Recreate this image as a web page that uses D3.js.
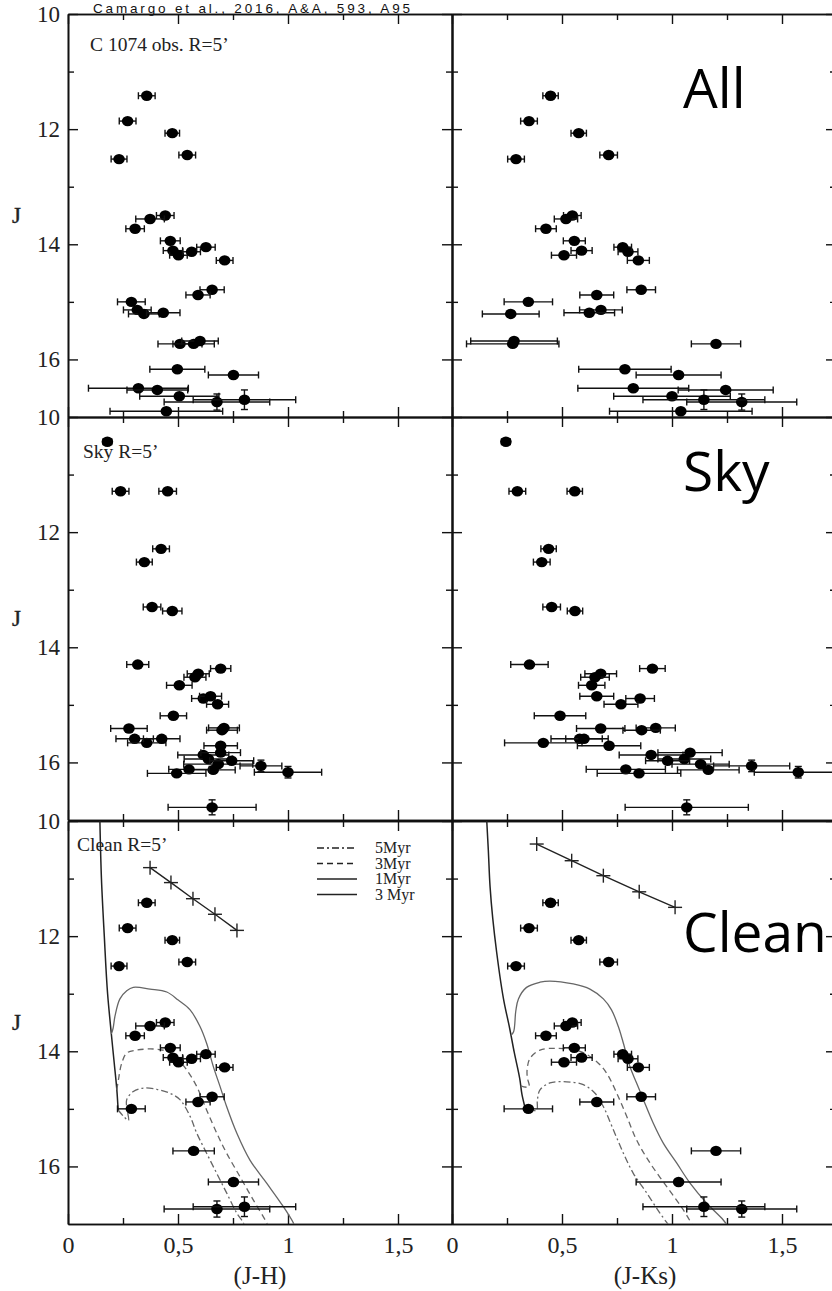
<!DOCTYPE html>
<html>
<head>
<meta charset="utf-8">
<script src="https://cdn.jsdelivr.net/npm/d3@7"></script>
<style>
  body { margin: 0; background: #fff; }
  .tick text { font-family: "Liberation Serif", serif; font-size: 23px; fill: #222; }
</style>
</head>
<body>
<div id="chart"></div>
<script>
// ---------- data ----------
// full field (C 1074, R=5')
const allJ     = [11.42, 11.86, 12.07, 12.52, 12.45, 13.50, 13.56, 13.73, 13.94, 14.11, 14.19, 14.13, 14.05, 14.28, 14.79, 14.88,
                  15.00, 15.14, 15.21, 15.19, 15.73, 15.73, 15.68, 16.17, 16.27, 16.50, 16.53, 16.64, 16.74, 16.70, 16.90];
const allJH    = [0.358, 0.271, 0.474, 0.232, 0.542, 0.442, 0.373, 0.305, 0.465, 0.477, 0.502, 0.562, 0.627, 0.712, 0.655, 0.591,
                  0.288, 0.315, 0.345, 0.433, 0.509, 0.571, 0.600, 0.497, 0.752, 0.320, 0.406, 0.506, 0.677, 0.802, 0.447];
const allJHerr = [0.038, 0.038, 0.033, 0.036, 0.038, 0.040, 0.065, 0.042, 0.045, 0.044, 0.040, 0.040, 0.042, 0.038, 0.055, 0.055,
                  0.063, 0.063, 0.070, 0.076, 0.100, 0.094, 0.083, 0.125, 0.114, 0.227, 0.138, 0.180, 0.240, 0.233, 0.256];
const allJK    = [0.448, 0.350, 0.576, 0.291, 0.712, 0.547, 0.518, 0.427, 0.556, 0.589, 0.509, 0.800, 0.776, 0.847, 0.860, 0.658,
                  0.347, 0.677, 0.267, 0.624, 0.276, 1.200, 0.282, 0.786, 1.030, 0.824, 1.244, 1.000, 1.317, 1.145, 1.040];
const allJKerr = [0.035, 0.038, 0.035, 0.038, 0.040, 0.040, 0.053, 0.047, 0.050, 0.048, 0.057, 0.045, 0.040, 0.050, 0.065, 0.077,
                  0.110, 0.097, 0.129, 0.115, 0.210, 0.112, 0.197, 0.210, 0.193, 0.252, 0.216, 0.265, 0.250, 0.277, 0.324];
const allJerr  = [0, 0, 0, 0, 0, 0, 0, 0, 0, 0, 0, 0, 0, 0, 0, 0,
                  0, 0, 0, 0, 0, 0, 0, 0, 0, 0, 0, 0, 0.14, 0.17, 0];
// stars kept after decontamination
const cleanIdx = [0, 1, 2, 3, 4, 5, 6, 7, 8, 9, 10, 11, 12, 13, 14, 15, 16, 21, 24, 28, 29];

// comparison field (Sky, R=5')
const skyJ     = [10.43, 11.29, 11.29, 12.29, 12.52, 13.30, 13.37, 14.30, 14.37, 14.46, 14.52, 14.66, 14.89, 14.85, 14.99, 15.19,
                  15.41, 15.40, 15.44, 15.59, 15.66, 15.59, 15.71, 15.87, 15.83, 15.94, 16.03, 16.13, 15.97, 16.06, 16.17, 16.12,
                  16.19, 16.78];
const skyJH    = [0.179, 0.239, 0.453, 0.423, 0.347, 0.382, 0.474, 0.317, 0.694, 0.592, 0.577, 0.506, 0.615, 0.648, 0.680, 0.479,
                  0.277, 0.709, 0.700, 0.303, 0.358, 0.426, 0.694, 0.615, 0.694, 0.638, 0.683, 0.660, 0.744, 0.877, 1.000, 0.550,
                  0.494, 0.655];
const skyJHerr = [0.020, 0.038, 0.040, 0.038, 0.036, 0.040, 0.044, 0.050, 0.046, 0.050, 0.050, 0.058, 0.053, 0.050, 0.050, 0.060,
                  0.083, 0.070, 0.070, 0.085, 0.087, 0.083, 0.076, 0.116, 0.090, 0.110, 0.157, 0.100, 0.100, 0.095, 0.153, 0.092,
                  0.133, 0.200];
const skyJK    = [0.245, 0.297, 0.558, 0.439, 0.408, 0.453, 0.559, 0.352, 0.911, 0.676, 0.650, 0.635, 0.855, 0.658, 0.768, 0.491,
                  0.676, 0.926, 0.862, 0.580, 0.415, 0.600, 0.714, 0.905, 1.082, 1.056, 1.130, 1.165, 0.980, 1.362, 1.574, 0.790,
                  0.850, 1.067];
const skyJKerr = [0.020, 0.038, 0.035, 0.035, 0.038, 0.040, 0.035, 0.085, 0.058, 0.072, 0.065, 0.060, 0.065, 0.077, 0.077, 0.117,
                  0.110, 0.089, 0.085, 0.130, 0.176, 0.083, 0.144, 0.145, 0.146, 0.120, 0.130, 0.140, 0.100, 0.173, 0.200, 0.180,
                  0.190, 0.280];
const skyJerr  = [0, 0, 0, 0, 0, 0, 0, 0, 0, 0, 0, 0, 0, 0, 0, 0,
                  0, 0, 0, 0, 0, 0, 0, 0, 0, 0, 0, 0, 0, 0.10, 0.10, 0,
                  0, 0.13];

// isochrones [colour, J]
const msJH   = [[0.145, 10], [0.152, 11], [0.165, 12], [0.180, 13], [0.197, 13.7], [0.210, 14.2], [0.222, 14.67], [0.228, 15.02]];
const iso1JH = [[0.197, 13.7], [0.205, 13.6], [0.214, 13.38], [0.236, 13.09], [0.267, 12.95], [0.297, 12.89], [0.373, 12.92],
                [0.449, 12.97], [0.501, 13.11], [0.555, 13.28], [0.600, 13.57], [0.630, 13.86], [0.661, 14.27], [0.691, 14.61],
                [0.721, 14.96], [0.767, 15.42], [0.827, 15.89], [0.903, 16.29], [0.979, 16.70], [1.024, 16.98], [1.030, 17.05]];
const iso3JH = [[0.222, 14.67], [0.229, 14.50], [0.244, 14.21], [0.267, 14.03], [0.312, 13.98], [0.388, 13.96], [0.449, 14.00],
                [0.494, 14.12], [0.539, 14.32], [0.585, 14.61], [0.630, 15.02], [0.676, 15.42], [0.721, 15.77], [0.782, 16.18],
                [0.842, 16.58], [0.903, 16.98], [0.910, 17.05]];
const iso5JH = [[0.228, 15.02], [0.255, 15.14], [0.275, 15.20], [0.268, 15.00], [0.267, 14.84], [0.297, 14.70], [0.342, 14.64],
                [0.403, 14.66], [0.464, 14.73], [0.509, 14.84], [0.555, 15.13], [0.585, 15.42], [0.630, 15.77], [0.676, 16.12],
                [0.721, 16.46], [0.767, 16.81], [0.797, 16.98], [0.802, 17.05]];

const msJK   = [[0.158, 10], [0.165, 10.5], [0.173, 11.14], [0.203, 12.28], [0.237, 13.15], [0.262, 13.6], [0.283, 14.02],
                [0.309, 14.5], [0.318, 14.75], [0.330, 14.95]];
const iso1JK = [[0.268, 13.72], [0.280, 13.66], [0.290, 13.30], [0.302, 13.09], [0.339, 12.89], [0.400, 12.80], [0.445, 12.78],
                [0.551, 12.83], [0.627, 12.92], [0.688, 13.09], [0.725, 13.28], [0.756, 13.57], [0.779, 13.86], [0.809, 14.27],
                [0.839, 14.55], [0.870, 14.84], [0.915, 15.25], [0.961, 15.60], [1.021, 15.94], [1.082, 16.29], [1.158, 16.64],
                [1.233, 16.93], [1.256, 17.05]];
const iso3JK = [[0.312, 14.60], [0.350, 14.62], [0.342, 14.45], [0.342, 14.30], [0.355, 14.12], [0.400, 13.98], [0.476, 13.95],
                [0.582, 14.00], [0.658, 14.18], [0.703, 14.38], [0.749, 14.73], [0.794, 15.13], [0.839, 15.54], [0.900, 15.94],
                [0.976, 16.35], [1.051, 16.75], [1.097, 17.05]];
const iso5JK = [[0.330, 14.95], [0.360, 15.02], [0.385, 15.02], [0.388, 14.85], [0.400, 14.67], [0.445, 14.55], [0.521, 14.53],
                [0.597, 14.58], [0.650, 14.73], [0.688, 14.96], [0.733, 15.36], [0.779, 15.77], [0.824, 16.12], [0.885, 16.46],
                [0.945, 16.81], [0.991, 17.05]];

// reddening vectors
const redJH = [[0.373, 10.81], [0.468, 11.07], [0.568, 11.35], [0.668, 11.62], [0.768, 11.90]];
const redJK = [[0.385, 10.40], [0.544, 10.69], [0.688, 10.95], [0.851, 11.23], [1.014, 11.50]];

// ticks & labels
const xMajor = [0, 0.5, 1, 1.5];
const xMinor = [0.25, 0.75, 1.25];
const yMajor = [10, 12, 14, 16];
const yMinor = [11, 13, 15];
const xTitles = ['(J-H)', '(J-Ks)'];
const panelNames = ['C 1074 obs. R=5\u2019', 'Sky R=5\u2019', 'Clean R=5\u2019'];
const bigNames = ['All', 'Sky', 'Clean'];
const legendLabels = ['5Myr', '3Myr', '1Myr', '3 Myr'];
const legendDash = ['7,3,2,3', '6,4', null, null];

// ---------- layout ----------
const width = 832, height = 1291;
const colX = [68, 452];
const rowY = [14, 417, 821];
const panelW = 384, panelH = 403;
const pxPerUnit = 220;

const svg = d3.select('#chart').append('svg')
  .attr('width', width)
  .attr('height', height)
  .style('background', '#fff');

const x = d3.scaleLinear().domain([0, panelW / pxPerUnit]).range([0, panelW]);
const y = d3.scaleLinear().domain([10, 17]).range([0, panelH]);

const fmtX = d => d === 0 ? '0' : String(d).replace('.', ',');

svg.append('defs').append('clipPath').attr('id', 'clip')
  .append('rect').attr('width', panelW).attr('height', panelH);

function panelPoints(row) {
  if (row === 0) return d3.range(allJ.length).map(i => ({ J: allJ[i], c: [allJH[i], allJK[i]], e: [allJHerr[i], allJKerr[i]], je: allJerr[i] }));
  if (row === 2) return cleanIdx.map(i => ({ J: allJ[i], c: [allJH[i], allJK[i]], e: [allJHerr[i], allJKerr[i]], je: allJerr[i] }));
  return d3.range(skyJ.length).map(i => ({ J: skyJ[i], c: [skyJH[i], skyJK[i]], e: [skyJHerr[i], skyJKerr[i]], je: skyJerr[i] }));
}

const line = d3.line().x(d => x(d[0])).y(d => y(d[1])).curve(d3.curveMonotoneY);
const lineFree = d3.line().x(d => x(d[0])).y(d => y(d[1])).curve(d3.curveCatmullRom.alpha(0.5));

rowY.forEach((py, row) => {
  colX.forEach((px, col) => {
    const g = svg.append('g').attr('transform', `translate(${px},${py})`);
    const bottomRow = row === 2;

    // axes with inward ticks
    const axB = g.append('g').attr('transform', `translate(0,${panelH})`)
      .call(d3.axisBottom(x).tickValues(xMajor).tickSizeInner(-10).tickSizeOuter(0).tickPadding(12)
        .tickFormat(bottomRow ? fmtX : ''));
    g.append('g').attr('transform', `translate(0,${panelH})`)
      .call(d3.axisBottom(x).tickValues(xMinor).tickSizeInner(-6).tickSizeOuter(0).tickFormat(''));
    g.append('g').call(d3.axisTop(x).tickValues(xMajor).tickSizeInner(-10).tickSizeOuter(0).tickFormat(''));
    g.append('g').call(d3.axisTop(x).tickValues(xMinor).tickSizeInner(-6).tickSizeOuter(0).tickFormat(''));
    g.append('g').call(d3.axisLeft(y).tickValues(yMajor).tickSizeInner(-10).tickSizeOuter(0).tickPadding(8)
      .tickFormat(col === 0 ? d3.format('d') : ''));
    g.append('g').call(d3.axisLeft(y).tickValues(yMinor).tickSizeInner(-6).tickSizeOuter(0).tickFormat(''));
    g.append('g').attr('transform', `translate(${panelW},0)`)
      .call(d3.axisRight(y).tickValues(yMajor).tickSizeInner(-10).tickSizeOuter(0).tickFormat(''));
    g.append('g').attr('transform', `translate(${panelW},0)`)
      .call(d3.axisRight(y).tickValues(yMinor).tickSizeInner(-6).tickSizeOuter(0).tickFormat(''));
    g.selectAll('.domain').attr('stroke', '#111').attr('stroke-width', 1.6);
    g.selectAll('.tick line').attr('stroke', '#111').attr('stroke-width', 1.4);
    if (bottomRow) axB.selectAll('.tick text').style('font-size', '24px');

    const plot = g.append('g').attr('clip-path', 'url(#clip)');

    // isochrones and reddening vector in clean panels
    if (bottomRow) {
      const iso = col === 0 ? [msJH, iso1JH, iso3JH, iso5JH] : [msJK, iso1JK, iso3JK, iso5JK];
      plot.append('path').attr('d', line(iso[0])).attr('fill', 'none').attr('stroke', '#222').attr('stroke-width', 1.5);
      plot.append('path').attr('d', lineFree(iso[1])).attr('fill', 'none').attr('stroke', '#666').attr('stroke-width', 1.3);
      plot.append('path').attr('d', lineFree(iso[2])).attr('fill', 'none').attr('stroke', '#666').attr('stroke-width', 1.3)
        .attr('stroke-dasharray', legendDash[1]);
      plot.append('path').attr('d', lineFree(iso[3])).attr('fill', 'none').attr('stroke', '#666').attr('stroke-width', 1.3)
        .attr('stroke-dasharray', legendDash[0]);

      const red = col === 0 ? redJH : redJK;
      plot.append('path').attr('d', d3.line().x(d => x(d[0])).y(d => y(d[1]))(red))
        .attr('fill', 'none').attr('stroke', '#222').attr('stroke-width', 1.4);
      const cr = plot.selectAll('.cross').data(red).enter().append('g')
        .attr('transform', d => `translate(${x(d[0])},${y(d[1])})`);
      cr.append('line').attr('x1', -7).attr('x2', 7).attr('stroke', '#222').attr('stroke-width', 1.4);
      cr.append('line').attr('y1', -7).attr('y2', 7).attr('stroke', '#222').attr('stroke-width', 1.4);
    }

    // stars with error bars
    const pts = panelPoints(row);
    const st = plot.selectAll('.star').data(pts).enter().append('g')
      .attr('transform', d => `translate(${x(d.c[col])},${y(d.J)})`);
    st.append('line')
      .attr('x1', d => x(d.c[col] - d.e[col]) - x(d.c[col]))
      .attr('x2', d => x(d.c[col] + d.e[col]) - x(d.c[col]))
      .attr('stroke', '#111').attr('stroke-width', 1.4);
    st.append('line')
      .attr('x1', d => x(d.c[col] - d.e[col]) - x(d.c[col]))
      .attr('x2', d => x(d.c[col] - d.e[col]) - x(d.c[col]))
      .attr('y1', -3.5).attr('y2', 3.5).attr('stroke', '#111').attr('stroke-width', 1.4);
    st.append('line')
      .attr('x1', d => x(d.c[col] + d.e[col]) - x(d.c[col]))
      .attr('x2', d => x(d.c[col] + d.e[col]) - x(d.c[col]))
      .attr('y1', -3.5).attr('y2', 3.5).attr('stroke', '#111').attr('stroke-width', 1.4);
    const vj = st.filter(d => d.je > 0);
    vj.append('line')
      .attr('y1', d => y(d.J - d.je) - y(d.J)).attr('y2', d => y(d.J + d.je) - y(d.J))
      .attr('stroke', '#111').attr('stroke-width', 1.4);
    [-1, 1].forEach(s => {
      vj.append('line').attr('x1', -3.5).attr('x2', 3.5)
        .attr('y1', d => y(d.J + s * d.je) - y(d.J)).attr('y2', d => y(d.J + s * d.je) - y(d.J))
        .attr('stroke', '#111').attr('stroke-width', 1.4);
    });
    st.append('ellipse').attr('rx', 5.8).attr('ry', 5.2).attr('fill', '#000');

    // labels
    if (col === 0) {
      g.append('text')
        .attr('x', row === 0 ? 22 : (row === 1 ? 15 : 9))
        .attr('y', row === 0 ? 37 : (row === 1 ? 41 : 30))
        .attr('font-family', 'Liberation Serif, serif').attr('font-size', '19.5px').attr('fill', '#222')
        .text(panelNames[row]);
      svg.append('text').attr('x', 12).attr('y', py + 209)
        .attr('font-family', 'Liberation Serif, serif').attr('font-size', '23px').attr('fill', '#222')
        .attr('stroke', '#222').attr('stroke-width', 0.4)
        .text('J');
    } else {
      g.append('text').attr('x', 231)
        .attr('y', row === 0 ? 94 : (row === 1 ? 74 : 131))
        .attr('font-family', 'Open Sans, sans-serif').attr('font-size', '55px').attr('fill', '#000')
        .text(bigNames[row]);
    }

    if (bottomRow) {
      g.append('text').attr('x', col === 0 ? 192 : 193).attr('y', panelH + 60)
        .attr('text-anchor', 'middle')
        .attr('font-family', 'Liberation Serif, serif').attr('font-size', '25px').attr('fill', '#222')
        .text(xTitles[col]);
    }

    // legend in the clean J-H panel
    if (bottomRow && col === 0) {
      const lg = g.append('g').attr('transform', 'translate(249,27)');
      legendLabels.forEach((lab, i) => {
        lg.append('line').attr('x1', 0).attr('x2', 40).attr('y1', i * 15.5).attr('y2', i * 15.5)
          .attr('stroke', '#222').attr('stroke-width', 1.3)
          .attr('stroke-dasharray', legendDash[i]);
        lg.append('text').attr('x', 58).attr('y', i * 15.5 + 5)
          .attr('font-family', 'Liberation Serif, serif').attr('font-size', '16px').attr('fill', '#222')
          .text(lab);
      });
    }
  });
});

// source line at the top
svg.append('text').attr('x', 93).attr('y', 12.5)
  .attr('font-family', 'Liberation Sans, sans-serif').attr('font-size', '13.5px').attr('fill', '#111')
  .attr('textLength', 317).attr('lengthAdjust', 'spacing')
  .text('Camargo et al., 2016, A&A, 593, A95');
</script>
</body>
</html>
